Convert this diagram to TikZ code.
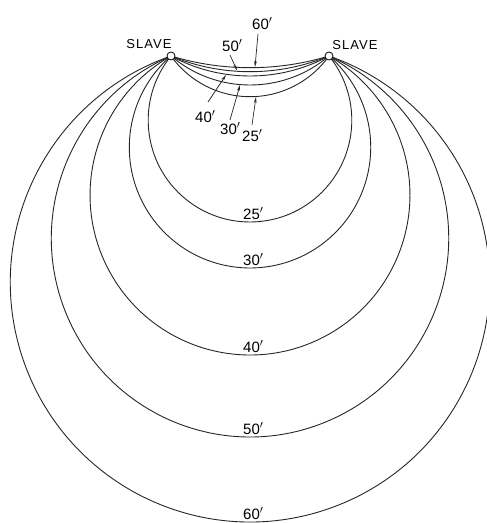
\documentclass[tikz,border=0pt]{standalone}
\usepackage{fontspec}
\setmainfont{Liberation Sans}
\usetikzlibrary{arrows.meta}
\newcommand{\pr}{\raisebox{1.5pt}{$'$}}
\begin{document}
\begin{tikzpicture}[x=1pt,y=1pt,
  curve/.style={line width=0.9pt, black!85},
  slavept/.style={circle, draw, line width=0.8pt, fill=white, inner sep=0pt, minimum size=8pt},
  lbl/.style={font=\fontsize{15}{15}\selectfont, inner sep=0pt, anchor=base west},
  slavelbl/.style={font=\fontsize{13}{13}\selectfont\addfontfeature{LetterSpace=8}, inner sep=0pt},
  ptr/.style={line width=0.7pt, black!85, -{Stealth[length=6pt,width=2.8pt]}}]
\useasboundingbox (0,0) rectangle (487,523);
\coordinate (A) at (171,467);
\coordinate (B) at (329,467);
\foreach \S/\s in {166/40.7, 212/29, 299/20, 381/15.7, 466/11.7}{
  \pgfmathsetmacro\r{\S/2+3120.5/\S}
  \pgfmathsetmacro\al{atan((\S-\r)/79)}
  \pgfmathsetmacro\R{\s/2+3120.5/\s}
  \pgfmathsetmacro\be{atan((\R-\s)/79)}
  \draw[curve] (A) arc[start angle=180-\al, end angle=360+\al, radius=\r pt]
               arc[start angle=-\be, end angle=-180+\be, radius=\R pt];
}
\node[slavept] (SA) at (A) {};
\node[slavept] (SB) at (B) {};
\node[slavelbl] (LA) at (149,479) {SLAVE};
\node[slavelbl] (LB) at (355,478) {SLAVE};
% bottom labels
\node[lbl] (b25) at (243,303) {25\pr};
\node[lbl] (b30) at (243,257) {30\pr};
\node[lbl] (b40) at (243,170) {40\pr};
\node[lbl] (b50) at (243,88) {50\pr};
\node[lbl] (b60) at (243,3) {60\pr};
% top labels
\node[lbl] (l60) at (252,493) {60\pr};
\node[lbl] (l50) at (222,471) {50\pr};
\node[lbl] (l40) at (195,400) {40\pr};
\node[lbl] (l30) at (220,388) {30\pr};
\node[lbl] (l25) at (242,381) {25\pr};
% pointers
\coordinate (s60) at (258,489); \coordinate (t60) at (255,456);
\coordinate (s50) at (230,468); \coordinate (t50) at (237,452.5);
\coordinate (s40) at (208,421); \coordinate (t40) at (226,448);
\coordinate (s30) at (230,403); \coordinate (t30) at (240,438);
\coordinate (s25) at (252,398); \coordinate (t25) at (256,426);
\draw[ptr] (s60) -- (t60);
\draw[ptr] (s50) -- (t50);
\draw[ptr] (s40) -- (t40);
\draw[ptr] (s30) -- (t30);
\draw[ptr] (s25) -- (t25);
\end{tikzpicture}
\end{document}
